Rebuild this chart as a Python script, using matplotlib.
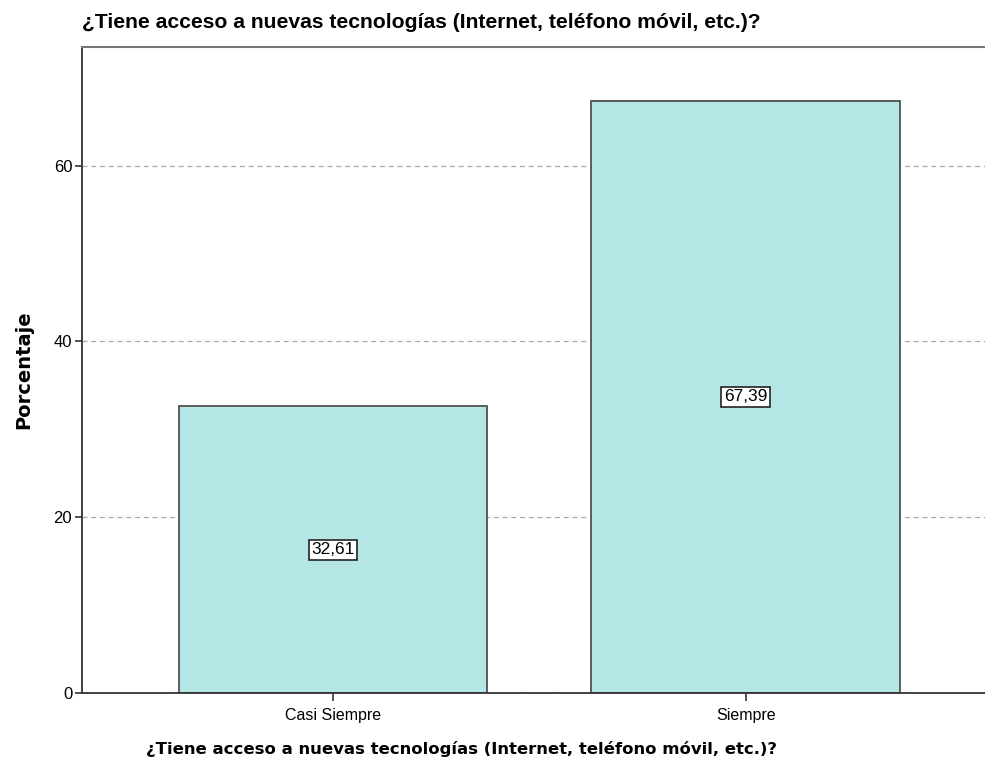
import matplotlib
matplotlib.use("Agg")
import matplotlib.pyplot as plt

# -------------------------
# Data
# -------------------------
categories = ["Casi Siempre", "Siempre"]
percentages = [32.61, 67.39]
value_labels = ["32,61", "67,39"]
y_ticks = [0, 20, 40, 60]

TITLE = "¿Tiene acceso a nuevas tecnologías (Internet, teléfono móvil, etc.)?"

plt.rcParams["font.family"] = ["Liberation Sans", "DejaVu Sans"]

fig = plt.figure(figsize=(9.85, 7.67), dpi=100)
ax = fig.add_axes([0.0832, 0.0965, 0.9168, 0.8422])

x = range(len(categories))
ax.bar(x, percentages, width=0.748, color="#b4e6e6", edgecolor="#505050",
       linewidth=1.3, zorder=2)

for xi, v, lab in zip(x, percentages, value_labels):
    ax.text(xi, v / 2, lab, ha="center", va="center", fontsize=12.5, zorder=3,
            bbox=dict(boxstyle="square,pad=0.15", facecolor="white",
                      edgecolor="#222222", linewidth=1.2))

ax.set_xlim(-0.608, 1.58)
ax.set_ylim(0, 73.5)
ax.set_yticks(y_ticks)
ax.set_xticks(list(x))
ax.set_xticklabels(categories, fontsize=11.5)
ax.tick_params(axis="y", labelsize=12, length=5, width=1.2, color="#333333", pad=2)
ax.tick_params(axis="x", length=6, width=1.2, color="#333333", pad=5)

ax.yaxis.grid(True, linestyle=(0, (4, 3)), color="#aaaaaa", linewidth=0.9, zorder=0)
ax.set_axisbelow(True)

ax.spines["right"].set_visible(False)
for s in ["left", "bottom"]:
    ax.spines[s].set_color("#333333")
    ax.spines[s].set_linewidth(1.3)
ax.spines["top"].set_color("#777777")
ax.spines["top"].set_linewidth(1.5)

ax.set_ylabel("Porcentaje", fontsize=14, fontweight="bold", family="DejaVu Sans")
ax.yaxis.set_label_coords(-0.054, 0.50)
ax.set_xlabel(TITLE, fontsize=11.85, fontweight="bold", family="DejaVu Sans")
ax.xaxis.set_label_coords(0.420, -0.075)
fig.text(0.0832, 0.971, TITLE, fontsize=15.2, fontweight="bold", ha="left", va="center")

fig.savefig("out.png", dpi=100)
